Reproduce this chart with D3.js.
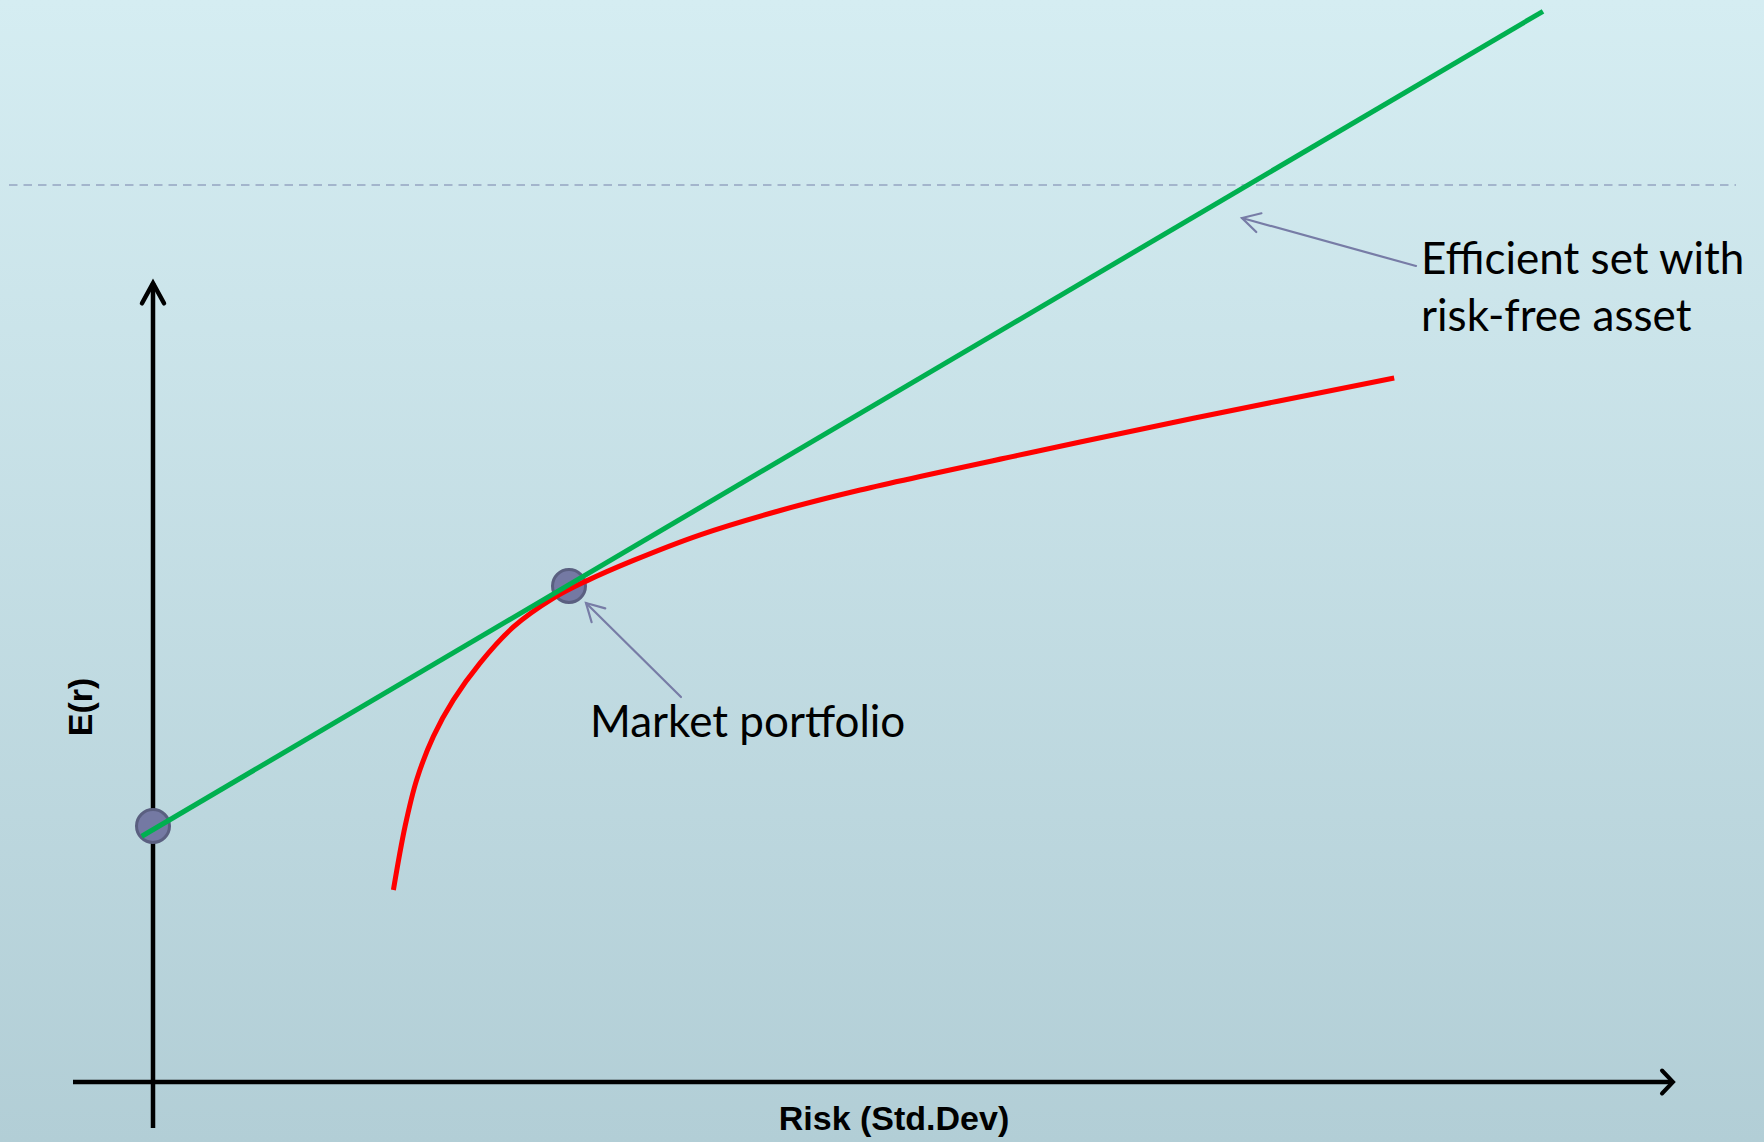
<!DOCTYPE html>
<html>
<head>
<meta charset="utf-8">
<script src="https://cdn.jsdelivr.net/npm/d3@7"></script>
<style>
  html, body { margin: 0; padding: 0; overflow: hidden; }
  svg { display: block; }
</style>
</head>
<body>
<svg id="chart" width="1764" height="1142"></svg>
<script>
// Efficient frontier (risky assets only): standard deviation vs expected return
const frontierSigma  = [6.01, 6.30, 6.59, 7.01, 7.51, 8.18, 9.01, 10.01, 10.84, 12.01, 13.68, 15.68, 17.68, 21.84, 26.01, 31.03];
const frontierReturn = [3.00, 3.99, 4.72, 5.40, 5.97, 6.55, 7.11, 7.56, 7.83, 8.15, 8.55, 8.93, 9.25, 9.82, 10.37, 11.00];

// Capital market line (efficient set with the risk-free asset)
const cmlSigma  = [-0.28, 34.75];
const cmlReturn = [3.84, 16.73];

// Highlighted portfolios
const pointNames  = ["Risk-free asset", "Market portfolio"];
const pointSigma  = [0, 10.4];
const pointReturn = [4.0, 7.75];

// Axis extents (arrows run past the origin)
const xAxisExtent = [-2, 38];
const yAxisExtent = [-0.72, 12.48];

// Text
const xTitle = "Risk (Std.Dev)";
const yTitle = "E(r)";
const marketLabel = "Market portfolio";
const cmlLabel = ["Efficient set with", "risk-free asset"];

const W = 1764, H = 1142;
const svg = d3.select("#chart");

// Background gradient
const defs = svg.append("defs");
const grad = defs.append("linearGradient").attr("id", "bg")
  .attr("x1", 0).attr("y1", 0).attr("x2", 0).attr("y2", 1);
grad.append("stop").attr("offset", "0%").attr("stop-color", "#d5edf2");
grad.append("stop").attr("offset", "100%").attr("stop-color", "#b2ced6");
svg.append("rect").attr("width", W).attr("height", H).attr("fill", "url(#bg)");

// Dashed guide line near the top
svg.append("line")
  .attr("x1", 9).attr("x2", 1736).attr("y1", 185).attr("y2", 185)
  .attr("stroke", "#a3b5cc").attr("stroke-width", 2)
  .attr("stroke-dasharray", "8.5 6");

// Scales: origin of the axes at (153, 1082)
const x = d3.scaleLinear().domain([0, 1]).range([153, 193]);
const y = d3.scaleLinear().domain([0, 1]).range([1082, 1018]);

// Axes drawn as arrows
const axisG = svg.append("g").attr("stroke", "#000").attr("fill", "none")
  .attr("stroke-width", 4.5);
axisG.append("line")
  .attr("x1", x(xAxisExtent[0])).attr("x2", x(xAxisExtent[1]))
  .attr("y1", y(0)).attr("y2", y(0));
axisG.append("line")
  .attr("x1", x(0)).attr("x2", x(0))
  .attr("y1", y(yAxisExtent[0])).attr("y2", y(yAxisExtent[1]));
// arrow heads
const xe = x(xAxisExtent[1]), ye = y(yAxisExtent[1]);
axisG.append("path")
  .attr("d", `M${xe - 11},${y(0) - 11.5} L${xe},${y(0)} L${xe - 11},${y(0) + 11.5}`)
  .attr("stroke-width", 4).attr("stroke-linejoin", "miter").attr("stroke-linecap", "round");
axisG.append("path")
  .attr("d", `M${x(0) - 11},${ye + 20} L${x(0)},${ye} L${x(0) + 11},${ye + 20}`)
  .attr("stroke-width", 4.5).attr("stroke-linejoin", "miter").attr("stroke-linecap", "round");

// Axis titles
svg.append("text")
  .attr("x", 894).attr("y", 1130)
  .attr("text-anchor", "middle")
  .attr("font-family", "'Liberation Sans', Arial, sans-serif")
  .attr("font-weight", "bold").attr("font-size", 34)
  .text(xTitle);
svg.append("text")
  .attr("transform", "translate(92,707) rotate(-90)")
  .attr("text-anchor", "middle")
  .attr("font-family", "'Liberation Sans', Arial, sans-serif")
  .attr("font-weight", "bold").attr("font-size", 34)
  .text(yTitle);

// Portfolio markers (under the lines)
svg.append("g").selectAll("circle")
  .data(pointNames.map((n, i) => ({ name: n, s: pointSigma[i], r: pointReturn[i] })))
  .join("circle")
  .attr("cx", d => x(d.s)).attr("cy", d => y(d.r))
  .attr("r", 16.5)
  .attr("fill", "#7479a3").attr("stroke", "#5a5f80").attr("stroke-width", 3);

// Frontier curve
const frontier = frontierSigma.map((s, i) => [s, frontierReturn[i]]);
svg.append("path")
  .datum(frontier)
  .attr("fill", "none").attr("stroke", "#ff0000").attr("stroke-width", 5)
  .attr("d", d3.line().x(d => x(d[0])).y(d => y(d[1])).curve(d3.curveCatmullRom.alpha(0.5)));

// Capital market line
const cml = cmlSigma.map((s, i) => [s, cmlReturn[i]]);
svg.append("path")
  .datum(cml)
  .attr("fill", "none").attr("stroke", "#00b050").attr("stroke-width", 5)
  .attr("d", d3.line().x(d => x(d[0])).y(d => y(d[1])));

// Annotation arrows
function annotArrow(x0, y0, x1, y1) {
  const ang = Math.atan2(y0 - y1, x0 - x1);
  const L = 20, a = 29 * Math.PI / 180;
  const p1 = [x1 + L * Math.cos(ang - a), y1 + L * Math.sin(ang - a)];
  const p2 = [x1 + L * Math.cos(ang + a), y1 + L * Math.sin(ang + a)];
  const g = svg.append("g").attr("stroke", "#777ca6").attr("stroke-width", 2.2)
    .attr("fill", "none").attr("stroke-linecap", "round");
  g.append("line").attr("x1", x0).attr("y1", y0).attr("x2", x1).attr("y2", y1);
  g.append("path").attr("d", `M${p1[0]},${p1[1]} L${x1},${y1} L${p2[0]},${p2[1]}`);
}

const mx = x(pointSigma[1]), my = y(pointReturn[1]);
annotArrow(mx + 112, my + 111, mx + 17, my + 17);
annotArrow(1416, 266, 1242, 218);

const labelFont = "Lato, 'Open Sans', sans-serif";
svg.append("text")
  .attr("x", 590).attr("y", 737)
  .attr("font-family", labelFont).attr("font-size", 44)
  .attr("fill", "#000")
  .text(marketLabel);
svg.append("text")
  .attr("font-family", labelFont).attr("font-size", 44)
  .attr("fill", "#000")
  .selectAll("tspan").data(cmlLabel).join("tspan")
  .attr("x", 1421).attr("y", (d, i) => 274 + i * 56.5)
  .text(d => d);
</script>
</body>
</html>
